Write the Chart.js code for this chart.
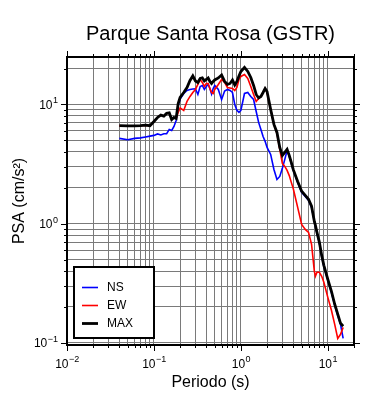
<!DOCTYPE html>
<html>
<head>
<meta charset="utf-8">
<script src="https://cdn.jsdelivr.net/npm/chart.js@4/dist/chart.umd.min.js"></script>
<style>
  html, body { margin: 0; padding: 0; background: #fff; }
  canvas { display: block; }
</style>
</head>
<body>
<canvas id="psaChart" width="390" height="400"></canvas>
<script>
// periodos (s) y PSA (cm/s2)
const periods = [0.04, 0.05, 0.06, 0.07, 0.08, 0.09, 0.10, 0.11, 0.12, 0.13, 0.14, 0.15, 0.16, 0.17, 0.18, 0.19, 0.20, 0.22, 0.24, 0.26,
  0.28, 0.30, 0.32, 0.34, 0.36, 0.38, 0.40, 0.42, 0.44, 0.46, 0.48, 0.50, 0.55, 0.60, 0.65, 0.70, 0.75, 0.80, 0.85, 0.90,
  0.95, 1.0, 1.1, 1.2, 1.3, 1.4, 1.5, 1.6, 1.7, 1.8, 1.9, 2.0, 2.2, 2.4, 2.6, 2.8, 3.0, 3.2, 3.4, 3.6,
  3.8, 4.0, 4.5, 5.0, 5.5, 6.0, 6.5, 7.0, 7.2, 7.5, 8.0, 8.5, 9.0, 10, 11, 12, 13, 14, 15];

const ns = [5.19, 5.06, 5.19, 5.24, 5.34, 5.42, 5.50, 5.66, 5.55, 5.68, 5.68, 6.17, 6.05, 6.54, 7.34, 9.81, 11.12, 12.36, 13.10, 13.36,
  13.49, 13.54, 12.13, 14.15, 14.43, 13.36, 14.15, 14.71, 13.62, 12.25, 13.62, 14.43, 13.36, 11.01, 12.98, 13.36, 13.10, 12.60, 10.0, 8.91,
  8.57, 8.91, 12.36, 12.60, 11.67, 11.01, 8.73, 7.07, 6.17, 5.39, 4.90, 4.36, 3.81, 2.85, 2.35, 2.49, 2.91, 3.46, 4.11, 3.66,
  3.20, 2.80, 2.22, 1.83, 1.69, 1.57, 1.37, 1.045, 0.949, 0.830, 0.684, 0.532, 0.439, 0.335, 0.265, 0.207, 0.170, 0.143, 0.109];

const ew = [6.63, 6.60, 6.60, 6.63, 6.71, 6.63, 7.20, 7.78, 8.14, 7.98, 8.41, 8.49, 7.48, 7.78, 7.63, 8.57, 9.35, 8.91, 10.60, 11.67,
  12.60, 13.36, 14.71, 16.20, 15.29, 14.15, 15.00, 15.00, 13.62, 12.60, 12.36, 13.36, 14.71, 16.20, 15.29, 13.88, 13.75, 13.62, 13.10, 13.88,
  16.20, 17.17, 17.84, 16.52, 14.15, 12.13, 10.60, 11.23, 11.67, 12.60, 13.62, 12.60, 9.08, 6.80, 5.71, 4.20, 3.20, 3.02, 2.80, 2.53,
  2.22, 1.97, 1.37, 0.987, 0.896, 0.846, 0.671, 0.398, 0.362, 0.391, 0.391, 0.362, 0.322, 0.241, 0.188, 0.143, 0.109, 0.118, 0.135];

const maxPsa = [6.63, 6.60, 6.60, 6.63, 6.71, 6.63, 7.20, 7.78, 8.14, 7.98, 8.41, 8.49, 7.48, 7.78, 7.63, 10.19, 11.45, 12.60, 13.88, 15.89,
  17.34, 15.74, 15.29, 16.52, 16.68, 15.74, 16.20, 16.68, 15.59, 15.00, 15.59, 16.05, 16.68, 17.67, 15.59, 14.71, 15.00, 16.05, 14.57, 15.59,
  17.34, 18.91, 20.42, 18.91, 16.84, 14.43, 12.13, 11.34, 11.67, 12.60, 13.62, 12.85, 9.08, 6.80, 5.82, 4.36, 3.74, 3.96, 4.20, 3.74,
  3.26, 2.85, 2.26, 1.87, 1.73, 1.60, 1.40, 1.045, 0.968, 0.846, 0.697, 0.542, 0.447, 0.341, 0.271, 0.211, 0.174, 0.146, 0.138];

const xDecades = [0.01, 0.1, 1, 10];
const xTickLabels = [['10', '\u22122'], ['10', '\u22121'], ['10', '0'], ['10', '1']];
const yDecades = [0.1, 1, 10];
const yTickLabels = [['10', '\u22121'], ['10', '0'], ['10', '1']];

const X_MIN = 0.01, X_MAX = 20;
const Y_MIN = 0.096, Y_MAX = 25;
const FONT = "'Liberation Sans', Arial, Helvetica, sans-serif";

// lineas de grilla 1..9 por decada
function decadeGrid(decades, lo, hi) {
  const vals = [];
  decades.forEach(d => {
    for (let k = 1; k <= 9; k++) {
      const v = +(k * d).toPrecision(6);
      if (v >= lo && v <= hi) vals.push(v);
    }
  });
  return vals;
}
const xGrid = decadeGrid(xDecades, X_MIN, X_MAX);
const yGrid = decadeGrid(yDecades, Y_MIN, Y_MAX);

function toPoints(values) {
  return periods.map((p, i) => ({ x: p, y: values[i] }));
}

// marco, ticks, etiquetas 10^n y leyenda
const frameAndLabels = {
  id: 'frameAndLabels',
  afterDraw(chart) {
    const { ctx, chartArea: a, scales } = chart;
    const x = scales.x, y = scales.y;
    ctx.save();
    ctx.strokeStyle = '#000';
    ctx.lineWidth = 1;
    ctx.beginPath();
    xGrid.forEach(v => {
      const px = Math.round(x.getPixelForValue(v)) + 0.5;
      const len = xDecades.includes(v) ? 6 : 3;
      ctx.moveTo(px, a.bottom); ctx.lineTo(px, a.bottom + len);
      ctx.moveTo(px, a.top); ctx.lineTo(px, a.top - len);
    });
    yGrid.forEach(v => {
      const py = Math.round(y.getPixelForValue(v)) + 0.5;
      const len = yDecades.includes(v) ? 6 : 3;
      ctx.moveTo(a.left, py); ctx.lineTo(a.left - len, py);
      ctx.moveTo(a.right, py); ctx.lineTo(a.right + len, py);
    });
    ctx.stroke();

    ctx.lineWidth = 2;
    ctx.strokeRect(a.left, a.top, a.right - a.left, a.bottom - a.top);

    ctx.fillStyle = '#000';
    ctx.textBaseline = 'alphabetic';
    ctx.textAlign = 'left';
    const baseFont = '12px ' + FONT, expFont = '9px ' + FONT;
    xDecades.forEach((v, i) => {
      const [b, e] = xTickLabels[i];
      ctx.font = baseFont; const wb = ctx.measureText(b).width;
      ctx.font = expFont; const we = ctx.measureText(e).width;
      const px = x.getPixelForValue(v);
      const x0 = px - (wb + we) / 2;
      ctx.font = baseFont; ctx.fillText(b, x0, a.bottom + 22.5);
      ctx.font = expFont; ctx.fillText(e, x0 + wb + 0.5, a.bottom + 17);
    });
    yDecades.forEach((v, i) => {
      const [b, e] = yTickLabels[i];
      ctx.font = baseFont; const wb = ctx.measureText(b).width;
      ctx.font = expFont; const we = ctx.measureText(e).width;
      const py = y.getPixelForValue(v);
      const x0 = a.left - 9.5 - wb - we;
      ctx.font = baseFont; ctx.fillText(b, x0, py + 4.5);
      ctx.font = expFont; ctx.fillText(e, x0 + wb + 0.5, py - 1);
    });

    // leyenda
    const bx = a.left + 7, by = a.bottom - 78, bw = 80, bh = 71;
    ctx.fillStyle = '#fff';
    ctx.fillRect(bx, by, bw, bh);
    ctx.lineWidth = 2;
    ctx.strokeStyle = '#000';
    ctx.strokeRect(bx, by, bw, bh);
    ctx.font = '12px ' + FONT;
    ctx.textBaseline = 'middle';
    chart.data.datasets.forEach((ds, i) => {
      const ry = by + 20.5 + i * 18;
      ctx.strokeStyle = ds.borderColor;
      ctx.lineWidth = ds.borderWidth;
      ctx.beginPath();
      ctx.moveTo(bx + 8, ry); ctx.lineTo(bx + 24, ry);
      ctx.stroke();
      ctx.fillStyle = '#000';
      ctx.fillText(ds.label, bx + 33, ry + 0.5);
    });
    ctx.restore();
  }
};

new Chart(document.getElementById('psaChart'), {
  type: 'line',
  data: {
    datasets: [
      { label: 'NS', data: toPoints(ns), borderColor: '#0000ff', borderWidth: 1.6, pointRadius: 0, order: 3 },
      { label: 'EW', data: toPoints(ew), borderColor: '#ff0000', borderWidth: 1.6, pointRadius: 0, order: 2 },
      { label: 'MAX', data: toPoints(maxPsa), borderColor: '#000000', borderWidth: 2.8, pointRadius: 0, order: 1 }
    ]
  },
  options: {
    responsive: false,
    animation: false,
    devicePixelRatio: 1,
    layout: { padding: { left: 0, right: 36, top: 0, bottom: 0 } },
    plugins: {
      legend: { display: false },
      tooltip: { enabled: false },
      title: {
        display: true,
        text: 'Parque Santa Rosa (GSTR)',
        fullSize: false,
        color: '#000',
        font: { family: FONT, size: 20, weight: 'normal' },
        padding: { top: 22, bottom: 11 }
      }
    },
    scales: {
      x: {
        type: 'logarithmic',
        position: 'bottom',
        min: X_MIN,
        max: X_MAX,
        afterBuildTicks: s => { s.ticks = xGrid.map(v => ({ value: v })); },
        afterFit: s => { s.height = 55; },
        ticks: { display: false },
        border: { display: false },
        grid: { color: '#7a7a7a', lineWidth: 1, drawTicks: false },
        title: {
          display: true,
          text: 'Periodo (s)',
          color: '#000',
          font: { family: FONT, size: 16 },
          padding: { top: 0, bottom: 8 }
        }
      },
      y: {
        type: 'logarithmic',
        position: 'left',
        min: Y_MIN,
        max: Y_MAX,
        afterBuildTicks: s => { s.ticks = yGrid.map(v => ({ value: v })); },
        afterFit: s => { s.width = 67; },
        ticks: { display: false },
        border: { display: false },
        grid: { color: '#7a7a7a', lineWidth: 1, drawTicks: false },
        title: {
          display: true,
          text: 'PSA (cm/s\u00b2)',
          color: '#000',
          font: { family: FONT, size: 16 },
          padding: { top: 10, bottom: 0 }
        }
      }
    }
  },
  plugins: [frameAndLabels]
});
</script>
</body>
</html>
